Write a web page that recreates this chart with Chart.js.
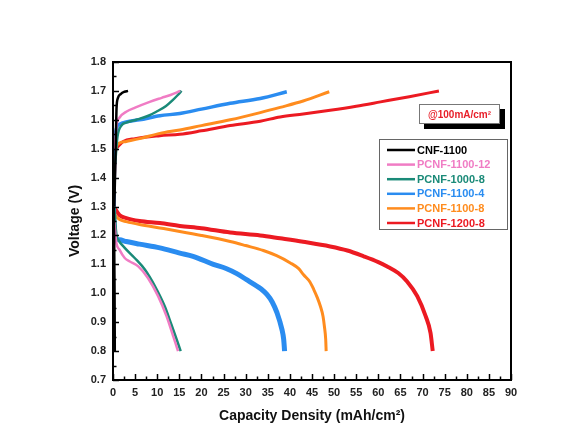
<!DOCTYPE html>
<html>
<head>
<meta charset="utf-8">
<script src="https://cdn.jsdelivr.net/npm/chart.js@4.4.0/dist/chart.umd.min.js"></script>
<style>
  html, body { margin: 0; padding: 0; background: #fff; }
  #wrap { width: 578px; height: 443px; }
</style>
</head>
<body>
<div id="wrap"><canvas id="chart" width="578" height="443"></canvas></div>
<script>
// series names and colours (legend order)
const seriesNames = ['CNF-1100', 'PCNF-1100-12', 'PCNF-1000-8', 'PCNF-1100-4', 'PCNF-1100-8', 'PCNF-1200-8'];
const seriesColors = ['#000000', '#f07cc4', '#1a8a78', '#2a8cf0', '#ff8c1e', '#ec1a22'];

// [capacity, voltage]
const cnfCharge = [[0.3,1.30],[0.6,1.50],[0.8,1.64],[1.1,1.675],[1.8,1.69],[2.6,1.697],[3.4,1.70]];
const cnfDischarge = [[0.1,1.30],[0.2,1.20],[0.3,1.00],[0.35,0.80]];

const p110012Charge = [[0.4,1.50],[0.8,1.58],[1.5,1.608],[3.0,1.628],[5.0,1.642],[8.3,1.662],[11.0,1.676],[13.0,1.686],[15.2,1.70]];
const p110012Discharge = [[0.3,1.25],[0.7,1.18],[1.5,1.15],[2.65,1.122],[3.8,1.11],[5.7,1.093],[7.9,1.053],[10.2,0.99],[12.1,0.921],[13.6,0.852],[14.4,0.815],[14.7,0.80]];

const p10008Charge = [[0.5,1.45],[1.0,1.54],[1.9,1.58],[3.0,1.59],[5.3,1.60],[8.0,1.614],[9.8,1.628],[12.0,1.648],[13.5,1.668],[14.6,1.685],[15.5,1.70]];
const p10008Discharge = [[0.3,1.30],[0.5,1.25],[0.8,1.20],[1.2,1.185],[2.65,1.157],[4.9,1.122],[7.2,1.082],[9.5,1.024],[11.7,0.955],[13.2,0.892],[14.4,0.84],[15.3,0.80]];

const p11004Charge = [[0.2,1.30],[0.4,1.50],[0.8,1.57],[1.5,1.585],[3.0,1.593],[6.0,1.60],[10.6,1.614],[15.1,1.622],[20.0,1.637],[26.5,1.657],[33.3,1.674],[39.3,1.697]];
const p11004Discharge = [[0.1,1.30],[0.3,1.22],[0.6,1.19],[1.5,1.185],[3.0,1.179],[6.0,1.17],[10.6,1.157],[15.1,1.139],[18.1,1.128],[22.7,1.10],[25.7,1.085],[28.0,1.068],[30.2,1.047],[32.0,1.03],[33.5,1.015],[34.8,0.996],[36.0,0.97],[37.1,0.932],[38.2,0.875],[38.6,0.84],[38.8,0.80]];

const p11008Charge = [[0.3,1.45],[0.6,1.50],[1.5,1.52],[3.0,1.525],[6.0,1.535],[10.6,1.553],[15.1,1.565],[20.0,1.58],[26.5,1.60],[33.3,1.625],[37.8,1.643],[43.0,1.665],[48.9,1.697]];
const p11008Discharge = [[0.1,1.29],[0.5,1.27],[1.5,1.255],[3.0,1.248],[6.0,1.238],[10.6,1.226],[15.1,1.214],[20.0,1.20],[26.5,1.179],[30.0,1.165],[34.0,1.148],[37.0,1.13],[40.1,1.105],[42.0,1.085],[43.1,1.064],[44.5,1.04],[45.4,1.013],[46.2,0.985],[46.9,0.955],[47.5,0.92],[47.8,0.886],[48.1,0.84],[48.2,0.80]];

const p12008Charge = [[0.2,1.30],[0.5,1.48],[1.0,1.505],[2.3,1.525],[5.0,1.535],[10.6,1.545],[15.1,1.55],[20.0,1.562],[26.5,1.58],[33.3,1.595],[37.8,1.61],[43.0,1.62],[49.1,1.633],[55.0,1.647],[60.5,1.662],[67.0,1.68],[73.7,1.70]];
const p12008Discharge = [[0.1,1.30],[0.4,1.294],[1.5,1.27],[3.0,1.26],[6.0,1.25],[10.6,1.243],[15.1,1.233],[20.0,1.225],[26.5,1.21],[33.3,1.20],[37.8,1.19],[43.0,1.178],[49.1,1.162],[53.0,1.148],[56.7,1.128],[60.0,1.108],[62.0,1.093],[64.5,1.07],[66.5,1.041],[68.8,0.99],[70.7,0.921],[71.8,0.863],[72.3,0.80]];

const chargeCurves = [cnfCharge, p110012Charge, p10008Charge, p11004Charge, p11008Charge, p12008Charge];
const dischargeCurves = [cnfDischarge, p110012Discharge, p10008Discharge, p11004Discharge, p11008Discharge, p12008Discharge];
const chargeWidths = [2.5, 2.5, 2.5, 3.5, 3, 3];
const dischargeWidths = [3, 2.5, 2.5, 5, 3, 4];

const xTicks = { min: 0, max: 90, step: 5 };
const yTicks = { min: 0.7, max: 1.8, step: 0.1 };

const boldFont = "'Liberation Sans', Arial, sans-serif";

function toPoints(arr) {
  return arr.map(p => ({ x: p[0], y: p[1] }));
}

const datasets = [];
seriesNames.forEach((name, i) => {
  datasets.push({
    label: name,
    data: toPoints(chargeCurves[i]),
    borderColor: seriesColors[i],
    borderWidth: chargeWidths[i],
    pointRadius: 0,
    cubicInterpolationMode: 'monotone',
    fill: false
  });
  datasets.push({
    label: name + ' discharge',
    data: toPoints(dischargeCurves[i]),
    borderColor: seriesColors[i],
    borderWidth: dischargeWidths[i],
    pointRadius: 0,
    cubicInterpolationMode: 'monotone',
    fill: false
  });
});

// frame, inward ticks, note box and legend box
const decorPlugin = {
  id: 'decor',
  afterDraw(chart) {
    const ctx = chart.ctx;
    const a = chart.chartArea;
    const xs = chart.scales.x, ys = chart.scales.y;
    ctx.save();
    ctx.strokeStyle = '#000';
    ctx.lineWidth = 1.5;
    // ticks
    for (let v = xTicks.min; v <= xTicks.max + 0.001; v += xTicks.step / 2) {
      const px = Math.round(xs.getPixelForValue(v)) + 0.5;
      const major = Math.abs(v / xTicks.step - Math.round(v / xTicks.step)) < 0.01;
      ctx.beginPath();
      ctx.moveTo(px, a.bottom);
      ctx.lineTo(px, a.bottom - (major ? 6 : 3.5));
      ctx.stroke();
    }
    for (let v = yTicks.min; v <= yTicks.max + 0.001; v += yTicks.step / 2) {
      const py = Math.round(ys.getPixelForValue(v)) + 0.5;
      const major = Math.abs(v / yTicks.step - Math.round(v / yTicks.step)) < 0.01;
      ctx.beginPath();
      ctx.moveTo(a.left, py);
      ctx.lineTo(a.left + (major ? 6 : 3.5), py);
      ctx.stroke();
    }
    // frame
    ctx.lineWidth = 2;
    ctx.strokeRect(a.left, a.top, a.right - a.left, a.bottom - a.top);

    // @100mA/cm2 box with shadow
    ctx.fillStyle = '#000';
    ctx.fillRect(424, 109, 81, 20);
    ctx.fillStyle = '#fff';
    ctx.fillRect(419, 104, 81, 20);
    ctx.strokeStyle = '#777';
    ctx.lineWidth = 1;
    ctx.strokeRect(419.5, 104.5, 80, 19);
    ctx.fillStyle = '#e8202a';
    ctx.font = 'bold 10px ' + boldFont;
    ctx.textAlign = 'center';
    ctx.textBaseline = 'middle';
    ctx.fillText('@100mA/cm\u00B2', 459.5, 115);

    // legend box
    ctx.fillStyle = '#fff';
    ctx.fillRect(379, 139, 129, 91);
    ctx.strokeStyle = '#666';
    ctx.strokeRect(379.5, 139.5, 128, 90);
    ctx.font = 'bold 11px ' + boldFont;
    ctx.textAlign = 'left';
    seriesNames.forEach((name, i) => {
      const y = 150 + i * 14.6;
      ctx.strokeStyle = seriesColors[i];
      ctx.lineWidth = 2.5;
      ctx.beginPath();
      ctx.moveTo(387, y);
      ctx.lineTo(415, y);
      ctx.stroke();
      ctx.fillStyle = seriesColors[i];
      ctx.fillText(name, 417, y + 0.5);
    });
    ctx.restore();
  }
};

document.addEventListener('DOMContentLoaded', function () {
  const ctx = document.getElementById('chart');
  new Chart(ctx, {
    type: 'line',
    data: { datasets: datasets },
    options: {
      responsive: false,
      animation: false,
      events: [],
      layout: { padding: { top: 62, right: 67, left: 0, bottom: 0 } },
      plugins: {
        legend: { display: false },
        tooltip: { enabled: false }
      },
      scales: {
        x: {
          type: 'linear',
          min: xTicks.min,
          max: xTicks.max,
          afterFit: s => { s.height = 63; },
          border: { display: false },
          grid: { display: false, drawTicks: false },
          ticks: {
            stepSize: xTicks.step,
            autoSkip: false,
            maxRotation: 0,
            padding: 6,
            color: '#222',
            font: { family: boldFont, size: 11, weight: 'bold' }
          },
          title: {
            display: true,
            text: 'Capacity Density (mAh/cm\u00B2)',
            color: '#111',
            font: { family: boldFont, size: 14, weight: 'bold' },
            padding: { top: 18.6, bottom: 18.6 }
          }
        },
        y: {
          type: 'linear',
          min: yTicks.min,
          max: yTicks.max,
          afterFit: s => { s.width = 113; },
          border: { display: false },
          grid: { display: false, drawTicks: false },
          ticks: {
            stepSize: yTicks.step,
            padding: 7,
            color: '#222',
            font: { family: boldFont, size: 11, weight: 'bold' },
            callback: v => Number(v).toFixed(1)
          },
          title: {
            display: true,
            text: 'Voltage (V)',
            color: '#111',
            font: { family: boldFont, size: 14, weight: 'bold' },
            padding: { top: 66.6, bottom: 66.6 }
          }
        }
      }
    },
    plugins: [decorPlugin]
  });
});
</script>
</body>
</html>
